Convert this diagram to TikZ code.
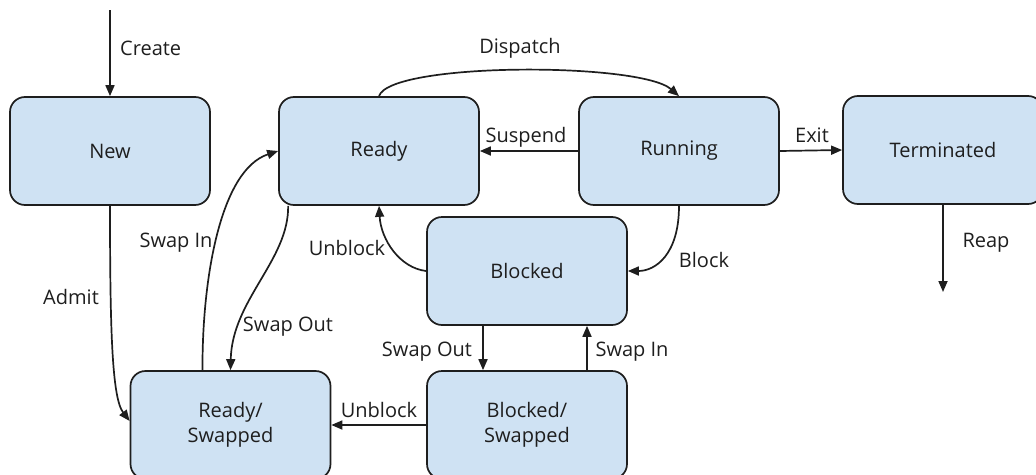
\documentclass[tikz,border=0pt]{standalone}
\usepackage{fontspec}
\setmainfont{Open Sans}
\usetikzlibrary{arrows.meta}

\definecolor{boxfill}{HTML}{CFE2F3}
\definecolor{ink}{HTML}{1E1E1E}

\begin{document}
\begin{tikzpicture}[x=1pt,y=-1pt,
		state/.style={rectangle, rounded corners=15pt, draw=ink, fill=boxfill, line width=1.7pt,
			minimum width=200pt, minimum height=108pt, inner sep=0pt, align=center,
			text=ink, font=\fontsize{20}{25}\selectfont},
		edge/.style={draw=ink, line width=1.7pt, -{Triangle[length=11pt,width=9pt]}},
		lbl/.style={text=ink, font=\fontsize{20}{25}\selectfont, inner sep=0pt}]
				\useasboundingbox (0,0) rectangle (1036,474);
				
				\node[state] (new) at (110,151) {New};
				\node[state] (ready) at (379,151) {Ready};
				\node[state] (running) at (679,151) {Running};
				\node[state] (term) at (943,150) {Terminated};
				\node[state] (blocked) at (527,271) {Blocked};
				\node[state] (rs) at (230.5,425) {Ready/\\Swapped};
				\node[state] (bs) at (527,425) {Blocked/\\Swapped};
				
				\coordinate (start) at (110,10);
				\coordinate (gone) at (943,292);
				
				\draw[edge] (start) -- (new.north);
				\draw[edge] (ready.north) .. controls (390,62) and (640,62) .. (running.north);
				\draw[edge] (running.west) -- (ready.east);
				\draw[edge] (running.east) -- (term.west);
				\draw[edge] (term.south) -- (gone);
				\draw[edge] (running.south) .. controls (679,255) and (655,271) .. (blocked.east);
				\draw[edge] (blocked.west) .. controls (400,268) and (381,240) .. (ready.south);
				\draw[edge] ([xshift=10pt]ready.south west) .. controls (289,260) and (232,300) .. (rs.north);
				\draw[edge] ([xshift=-28pt]rs.north) .. controls (202,280) and (220,170) .. (ready.west);
				\draw[edge] (new.south) .. controls (110,330) and (112,398) .. ([yshift=4pt]rs.west);
				\draw[edge] ([xshift=-44pt]blocked.south) -- ([xshift=-44pt]bs.north);
				\draw[edge] ([xshift=60pt]bs.north) -- ([xshift=60pt]blocked.south);
				\draw[edge] (bs.west) -- (rs.east);
				
				% edge labels
				\node[lbl, anchor=west] (lcreate) at (120,48) {Create};
				\node[lbl] (ldispatch) at (520,48) {Dispatch};
				\node[lbl] (lsuspend) at (526,137) {Suspend};
				\node[lbl] (lexit) at (812,135) {Exit};
				\node[lbl] (lreap) at (986,243) {Reap};
				\node[lbl] (lblock) at (704,260) {Block};
				\node[lbl] (lunblock) at (347,248) {Unblock};
				\node[lbl] (lswapin) at (176,243) {Swap In};
				\node[lbl] (lswapout) at (288,327) {Swap Out};
				\node[lbl] (ladmit) at (71,297) {Admit};
				\node[lbl] (lbswapout) at (427,352) {Swap Out};
				\node[lbl] (lbswapin) at (632,352) {Swap In};
				\node[lbl] (lbunblock) at (379,410) {Unblock};
			\end{tikzpicture}
\end{document}
